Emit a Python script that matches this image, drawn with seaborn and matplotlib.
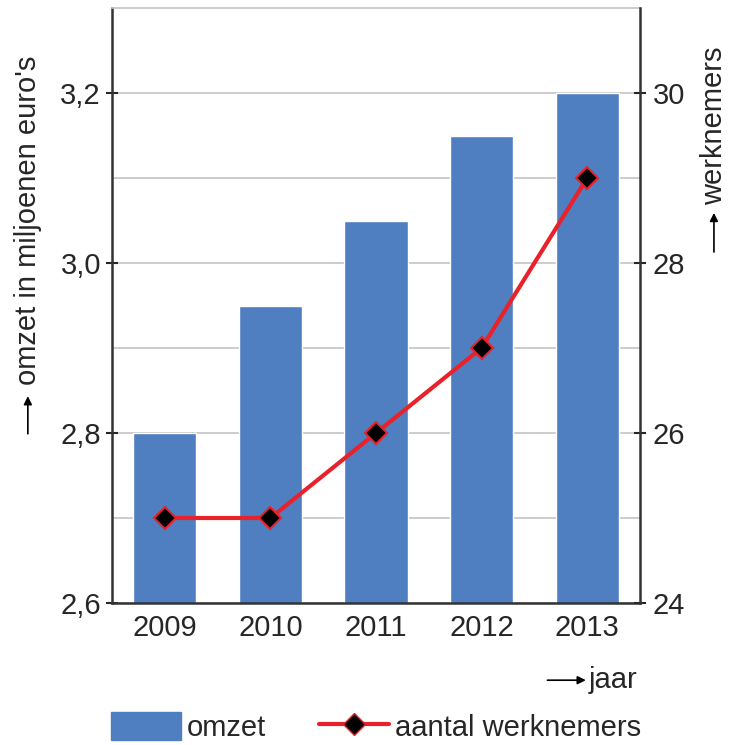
import matplotlib.pyplot as plt
import matplotlib.ticker as mticker
import numpy as np
import pandas as pd
import seaborn as sns

years = ["2009", "2010", "2011", "2012", "2013"]
omzet = [2.80, 2.95, 3.05, 3.15, 3.20]
werknemers = [25, 25, 26, 27, 29]

BLUE = "#4f7fc0"
RED = "#e8212a"


def comma(x, pos):
    return f"{x:.1f}".replace(".", ",")


def main():
    sns.set_style("white")
    plt.rcParams["font.family"] = ["Liberation Sans", "DejaVu Sans"]
    plt.rcParams["font.size"] = 21

    df = pd.DataFrame({"jaar": years, "omzet": omzet, "werknemers": werknemers})

    fig = plt.figure(figsize=(7.33, 7.45), dpi=100)
    ax = fig.add_axes([112 / 733, 142 / 745, 528 / 733, 595 / 745])

    sns.barplot(data=df, x="jaar", y="omzet", color=BLUE, saturation=1,
                width=0.6, ax=ax, zorder=2)
    ax.set_ylim(2.6, 3.3)
    ax.set_xlim(-0.5, 4.5)
    ax.set_xlabel("")
    ax.set_ylabel("")

    ax.yaxis.set_major_locator(mticker.FixedLocator([2.6, 2.8, 3.0, 3.2]))
    ax.yaxis.set_major_formatter(mticker.FuncFormatter(comma))
    ax.set_yticks([2.7, 2.9, 3.1], minor=True)
    ax.grid(True, axis="y", which="both", color="#c4c4c4", lw=1.2, zorder=0)
    ax.tick_params(axis="y", which="major", direction="inout", length=8,
                   width=1.5, pad=4, labelsize=21)
    ax.tick_params(axis="y", which="minor", length=0)

    ax.set_xticks(np.arange(0.5, 4.0, 1.0), minor=True)
    ax.tick_params(axis="x", which="major", length=0, pad=8, labelsize=21)
    ax.tick_params(axis="x", which="minor", direction="inout", length=10,
                   width=1.5)

    ax.spines["right"].set_visible(False)
    ax.spines["top"].set_color("#c4c4c4")
    ax.spines["top"].set_linewidth(1.2)
    for side in ["left", "bottom"]:
        ax.spines[side].set_color("#333333")
        ax.spines[side].set_linewidth(1.8)

    ax2 = ax.twinx()
    sns.lineplot(x=np.arange(len(years)), y=werknemers, ax=ax2, color=RED,
                 lw=3, marker="D", markersize=11, markerfacecolor="black",
                 markeredgecolor=RED, markeredgewidth=1.5, zorder=5)
    ax2.set_ylim(24, 31)
    ax2.set_yticks([24, 26, 28, 30])
    ax2.tick_params(axis="y", direction="inout", length=8, width=1.5,
                    pad=5, labelsize=21)
    for side in ["top", "left", "bottom"]:
        ax2.spines[side].set_visible(False)
    ax2.spines["right"].set_color("#333333")
    ax2.spines["right"].set_linewidth(1.8)
    ax2.set_ylabel("")
    ax2.grid(False)

    # axis titles with little arrows
    arrow = dict(arrowstyle="-|>", lw=1.2, color="black", mutation_scale=12)
    fig.text(0.038, 0.483, "omzet in miljoenen euro's", rotation=90,
             ha="center", va="bottom", fontsize=21)
    ax.annotate("", xy=(0.038, 0.472), xytext=(0.038, 0.414),
                xycoords="figure fraction", arrowprops=arrow)
    fig.text(0.974, 0.725, "werknemers", rotation=90, ha="center",
             va="bottom", fontsize=21)
    ax.annotate("", xy=(0.974, 0.718), xytext=(0.974, 0.658),
                xycoords="figure fraction", arrowprops=arrow)
    fig.text(0.803, 0.087, "jaar", ha="left", va="center", fontsize=21)
    ax.annotate("", xy=(0.803, 0.087), xytext=(0.743, 0.087),
                xycoords="figure fraction", arrowprops=arrow)

    # legend
    h1 = plt.Rectangle((0, 0), 1, 1, color=BLUE)
    h2 = plt.Line2D([], [], color=RED, lw=3, marker="D", markersize=11,
                    markerfacecolor="black", markeredgecolor=RED)
    fig.legend([h1, h2], ["omzet", "aantal werknemers"], loc="center",
               bbox_to_anchor=(0.513, 0.024), ncol=2, frameon=False,
               fontsize=21, handlelength=2.4, handleheight=1.1,
               handletextpad=0.2, columnspacing=1.8)

    plt.savefig("out.png", dpi=100)


if __name__ == "__main__":
    main()
